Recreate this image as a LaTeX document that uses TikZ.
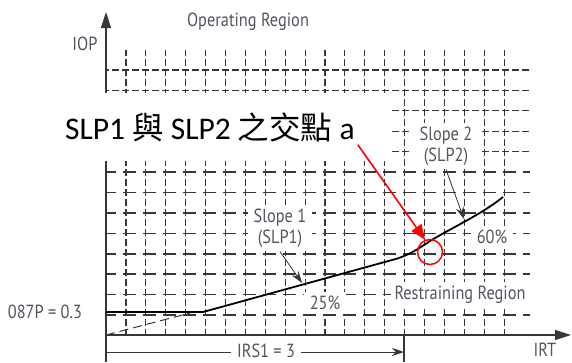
\documentclass[tikz,border=0pt]{standalone}
\usepackage{fontspec}
\newfontfamily\chartfont{PT Sans}[FakeStretch=0.86]
\newfontfamily\cjkfont{Noto Sans CJK TC}
\newfontfamily\calfont{Carlito}
\usetikzlibrary{arrows.meta}
\definecolor{gridgray}{RGB}{55,55,55}
\definecolor{labelgray}{RGB}{80,85,95}
\newcommand\chartsize{\chartfont\fontsize{19}{21}\selectfont}

\begin{document}
\begin{tikzpicture}[x=1pt,y=-1pt,
    lbl/.style={font=\chartsize,text=labelgray,inner sep=1pt},
    whitebox/.style={lbl,fill=white,align=center,inner xsep=6pt,inner ysep=4pt},
    gridv/.style={gridgray,line width=1.1pt,dash pattern=on 7pt off 3pt,dash phase=1pt},
    gridh/.style={gridgray,line width=1.1pt,dash pattern=on 7pt off 3pt,dash phase=4pt},
    gridhl/.style={gridgray,dash pattern=on 13pt off 7pt,dash phase=3pt},
    axis/.style={gridgray,line width=1.3pt,-{Triangle[length=16pt,width=10pt]}},
    curve/.style={black,line width=1.8pt,line join=round},
    pointer/.style={gridgray,line width=0.8pt,-{Stealth[length=12pt,width=8pt]}}]
    \useasboundingbox (0,0) rectangle (572,362);

    \foreach \i in {0,...,19}{%
        \draw[gridv] ({126+19.9*\i},50) -- ({126+19.9*\i},335);}
    \foreach \j in {0,...,4}{%
        \draw[gridh] (106,{70+20.42*\j}) -- (530,{70+20.42*\j});}
    \foreach \j/\w in {5/1.3,6/1.2,7/1.7,8/1.2,9/1.6,10/1.7,11/1.2,12/1.7}{%
        \draw[gridhl,line width=\w pt] (106,{70+20.42*\j}) -- (530,{70+20.42*\j});}

    \coordinate (o)     at (106,335);
    \coordinate (ytop)  at (106,12);
    \coordinate (ybot)  at (106,362);
    \coordinate (xend)  at (571,335);
    \draw[axis] (ybot) -- (ytop);
    \draw[axis] (o) -- (xend);

    \fill[white] (100,93) rectangle (389,161);
    \node[anchor=west,inner sep=3pt] (chn) at (62,127)
        {\fontsize{31.5}{34}\selectfont\calfont SLP1 {\cjkfont 與} SLP2 {\cjkfont 之交點} a};

    \node[lbl] (oper) at (248,22) {Operating Region};
    \node[lbl] (iop)  at (85,44)  {IOP};
    \node[lbl] (pick) at (45,312) {087P = 0.3};
    \node[lbl] (irt)  at (545,350) {IRT};
    \node[whitebox] (s1) at (280,228) {Slope 1\\(SLP1)};
    \node[whitebox,inner xsep=10pt] (s2) at (446,146) {Slope 2\\(SLP2)};
    \node[whitebox] (p25) at (325,303) {25\%};
    \node[whitebox] (p60) at (492,237) {60\%};
    \node[whitebox,inner xsep=4pt] (rest) at (460,295) {Restraining Region};

    % IRS1 dimension
    \coordinate (irstop) at (404,335);
    \coordinate (irsbot) at (404,362);
    \coordinate (irsa)   at (106,352);
    \coordinate (irsb)   at (404,352);
    \draw[gridgray,line width=1.1pt] (irstop) -- (irsbot);
    \node[lbl,fill=white,inner xsep=6pt] (irs) at (266,351) {IRS1 = 3};
    \draw[gridgray,line width=1pt] (irsa) -- (irs.west |- irsa);
    \draw[gridgray,line width=1pt,-{Stealth[length=12pt,width=8pt]}] (irs.east |- irsb) -- (irsb);

    % characteristic
    \coordinate (flat) at (106,312);
    \coordinate (knee) at (203,312);
    \coordinate (sa)   at (302,283);
    \coordinate (sb)   at (464,219);
    \draw[gridgray,line width=1pt,dash pattern=on 9pt off 5pt] (o) -- (190,313);
    \draw[curve] (flat) -- (knee) -- (392,260)
        .. controls (408,256) and (418,249) .. (430,241)
        .. controls (455,226) and (482,214) .. (503,197);
    \draw[pointer] (s1.south) -- (sa);
    \draw[pointer] (s2.south) -- (sb);

    \node[draw=red,line width=1.5pt,circle,minimum size=25pt,inner sep=0pt] (cross) at (430,252) {};
    \draw[red,line width=1.6pt,-{Triangle[length=15pt,width=12pt]}] (chn.south east) -- (cross.112);
\end{tikzpicture}
\end{document}
